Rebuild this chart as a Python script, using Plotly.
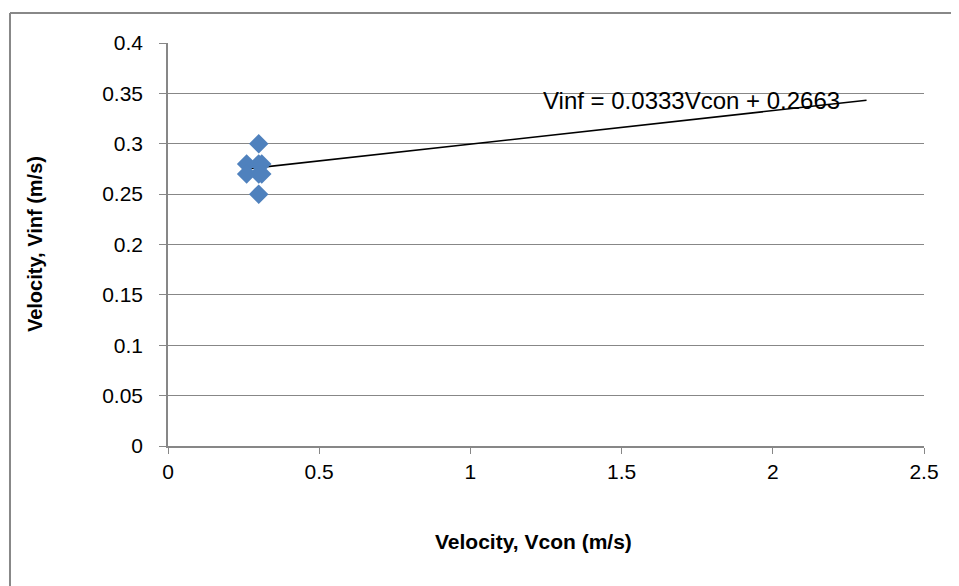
import plotly.graph_objects as go

# Data
vcon = [0.26, 0.26, 0.30, 0.30, 0.30, 0.30, 0.31, 0.31]
vinf = [0.28, 0.27, 0.30, 0.25, 0.28, 0.27, 0.28, 0.27]

# Trendline (as shown in the chart label)
slope = 0.0333
intercept = 0.2663
trend_x = [0.26, 2.31]
trend_y = [slope * x + intercept for x in trend_x]

x_ticks = [0, 0.5, 1, 1.5, 2, 2.5]
x_tick_labels = ["0", "0.5", "1", "1.5", "2", "2.5"]
y_ticks = [0, 0.05, 0.1, 0.15, 0.2, 0.25, 0.3, 0.35, 0.4]
y_tick_labels = ["0", "0.05", "0.1", "0.15", "0.2", "0.25", "0.3", "0.35", "0.4"]

x_title = "Velocity, Vcon (m/s)"
y_title = "Velocity, Vinf (m/s)"

font_family = "Liberation Sans, Arial, sans-serif"
grid = "#878787"
FS = 21

fig = go.Figure()
fig.add_trace(go.Scatter(
    x=trend_x, y=trend_y, mode="lines",
    line=dict(color="black", width=1.6), showlegend=False, hoverinfo="skip"))
fig.add_trace(go.Scatter(
    x=vcon, y=vinf, mode="markers",
    marker=dict(symbol="diamond", size=15, color="#4F81BD",
                line=dict(width=0)),
    showlegend=False))

fig.add_annotation(
    x=trend_x[1], y=trend_y[1], xref="x", yref="y",
    text="Vinf = %.4fVcon + %.4f" % (slope, intercept),
    showarrow=False, xanchor="right", yanchor="middle",
    xshift=-25, yshift=0,
    font=dict(family=font_family, size=24, color="black"))

# axis titles
fig.add_annotation(
    x=0.483, y=-0.236, xref="paper", yref="paper",
    text="<b>%s</b>" % x_title, showarrow=False,
    xanchor="center", yanchor="middle",
    font=dict(family=font_family, size=FS, color="black"))
fig.add_annotation(
    x=-0.176, y=0.501, xref="paper", yref="paper",
    text="<b>%s</b>" % y_title, showarrow=False, textangle=-90,
    xanchor="center", yanchor="middle",
    font=dict(family=font_family, size=FS - 1, color="black"))

# outer chart border (left and top edges visible)
border = dict(color="#888888", width=2)
fig.add_shape(type="line", xref="paper", yref="paper",
              x0=-0.209, x1=-0.209, y0=-0.5, y1=1.0744, line=border,
              layer="below")
fig.add_shape(type="line", xref="paper", yref="paper",
              x0=-0.209, x1=1.2, y0=1.0744, y1=1.0744, line=border,
              layer="below")

fig.update_layout(
    width=959, height=586,
    margin=dict(l=160, r=43, t=35, b=148),
    paper_bgcolor="white", plot_bgcolor="white",
    font=dict(family=font_family, size=FS, color="black"),
    xaxis=dict(
        range=[0, 2.5], tickvals=x_ticks, ticktext=x_tick_labels,
        showgrid=False, zeroline=False, showline=True, linecolor=grid,
        linewidth=1.5, ticks="outside", ticklen=6, tickcolor=grid,
        automargin=False, tickfont=dict(size=FS)),
    yaxis=dict(
        range=[0, 0.4], tickvals=y_ticks, ticktext=y_tick_labels,
        showgrid=True, gridcolor=grid, gridwidth=1.3,
        zeroline=False, showline=True, linecolor=grid, linewidth=1.5,
        ticks="outside", ticklen=7, tickcolor=grid,
        ticklabelstandoff=12,
        automargin=False, tickfont=dict(size=FS)),
)

fig.write_html("out.html")
